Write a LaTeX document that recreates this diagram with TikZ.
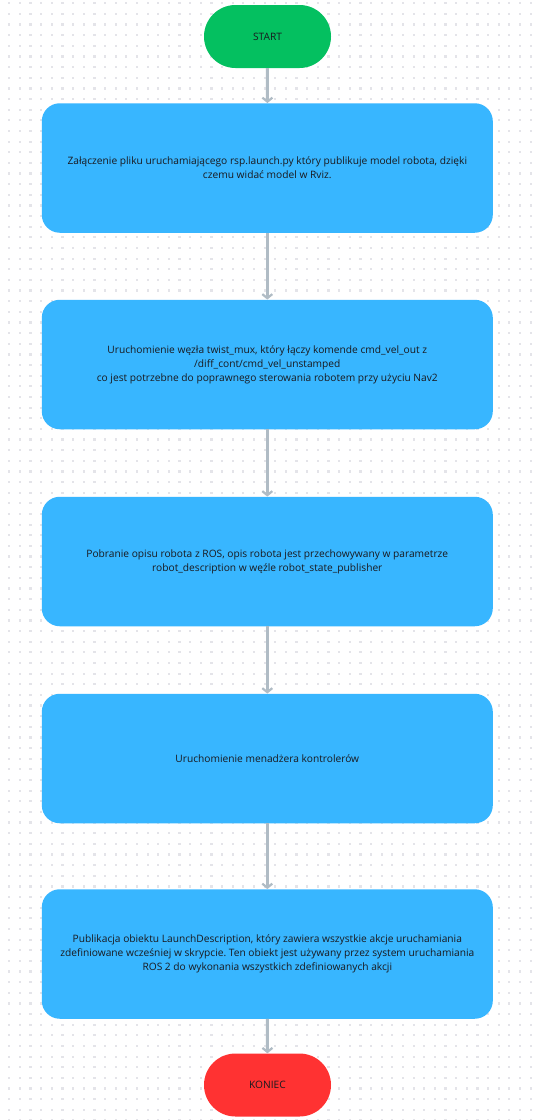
\documentclass[tikz,border=0pt]{standalone}
\usepackage{fontspec}
\setmainfont{Open Sans}
\usetikzlibrary{arrows.meta}
\definecolor{startgreen}{RGB}{4,192,96}
\definecolor{boxblue}{RGB}{56,182,255}
\definecolor{endred}{RGB}{255,50,50}
\definecolor{arrowgray}{RGB}{176,188,197}
\definecolor{dotgray}{RGB}{228,228,233}
\definecolor{txt}{RGB}{25,25,30}
\frenchspacing
\begin{document}
\begin{tikzpicture}[x=1pt,y=-1pt,
  terminal/.style={rectangle, rounded corners=31.5pt, minimum width=127pt, minimum height=63pt, inner sep=0pt, text=txt, font=\fontsize{10.2}{14}\selectfont},
  stepbox/.style={rectangle, fill=boxblue, rounded corners=18pt, minimum width=451pt, minimum height=129.5pt, inner sep=0pt, text=txt, align=center, font=\fontsize{10.2}{14}\selectfont},
  flow/.style={draw=arrowgray, line width=3pt, -{Straight Barb[length=4pt,width=10pt,line width=2.2pt]}}
]
\useasboundingbox (0,0) rectangle (533,1120);
\fill[white] (0,0) rectangle (533,1120);
\foreach \i in {0,...,49} {
  \foreach \j in {0,...,105} {
    \fill[dotgray] ({9.3+\i*10.64-1.1},{3.3+\j*10.64-1.1}) rectangle +(2.2,2.2);
  }
}
\node[terminal, fill=startgreen] (start) at (267.5,36.5) {START};
\node[stepbox] (b1) at (267.3,168) {Załączenie pliku uruchamiającego rsp.launch.py który publikuje model robota, dzięki\\czemu widać model w Rviz.};
\node[stepbox] (b2) at (267.3,364.5) {Uruchomienie węzła twist\_mux, który łączy komende cmd\_vel\_out z\\/diff\_cont/cmd\_vel\_unstamped\\co jest potrzebne do poprawnego sterowania robotem przy użyciu Nav2};
\node[stepbox] (b3) at (267.3,561.5) {Pobranie opisu robota z ROS, opis robota jest przechowywany w parametrze\\robot\_description w węźle robot\_state\_publisher};
\node[stepbox] (b4) at (267.3,758.5) {Uruchomienie menadżera kontrolerów};
\node[stepbox] (b5) at (267.3,954) {Publikacja obiektu LaunchDescription, który zawiera wszystkie akcje uruchamiania\\zdefiniowane wcześniej w skrypcie. Ten obiekt jest używany przez system uruchamiania\\ROS 2 do wykonania wszystkich zdefiniowanych akcji};
\node[terminal, fill=endred] (end) at (267.5,1085) {KONIEC};
\draw[flow] (start) -- (b1);
\draw[flow] (b1) -- (b2);
\draw[flow] (b2) -- (b3);
\draw[flow] (b3) -- (b4);
\draw[flow] (b4) -- (b5);
\draw[flow] (b5) -- (end);
\end{tikzpicture}
\end{document}
